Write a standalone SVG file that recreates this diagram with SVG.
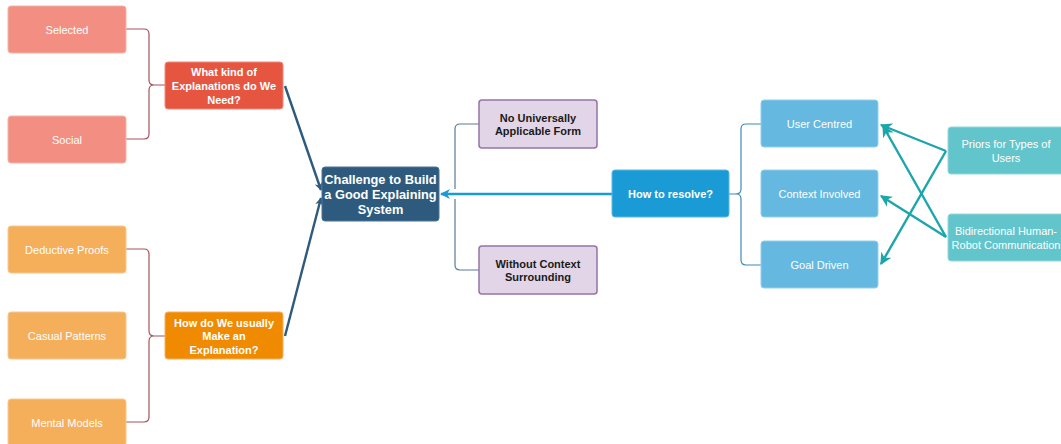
<svg xmlns="http://www.w3.org/2000/svg" width="1061" height="444" viewBox="0 0 1061 444">
<defs>
<style>
text{font-family:"Liberation Sans",Arial,sans-serif;font-size:11px;text-anchor:middle;dominant-baseline:central}
.w{fill:#fff}
.b{font-weight:bold}
.k{fill:#1a1a1a}
.n{stroke-width:1.5}
.br{fill:none;stroke-width:1.2}
</style>
<marker id="aD" viewBox="0 0 10 10" refX="9" refY="5" markerWidth="8" markerHeight="8" orient="auto" markerUnits="userSpaceOnUse"><path d="M0,0 L10,5 L0,10 L3,5 Z" fill="#2e5b7d"/></marker>
<marker id="aB" viewBox="0 0 10 10" refX="9" refY="5" markerWidth="10" markerHeight="10" orient="auto" markerUnits="userSpaceOnUse"><path d="M0,0 L10,5 L0,10 L3,5 Z" fill="#1a9bd6"/></marker>
<marker id="aT" viewBox="0 0 10 10" refX="9" refY="5" markerWidth="12" markerHeight="12" orient="auto" markerUnits="userSpaceOnUse"><path d="M0,0 L10,5 L0,10 L3,5 Z" fill="#1ba6ab"/></marker>
</defs>
<rect width="1061" height="444" fill="#fff"/>
<g id="connectors">
<path class="br" stroke="#a8505a" d="M126,29 H144 Q149,29 149,34 V80 Q149,85 154,85 H165 M154,85 Q149,85 149,90 V134 Q149,139 144,139 H126"/>
<path class="br" stroke="#a8505a" d="M126,249 H144 Q149,249 149,254 V331 Q149,336 154,336 H169 M154,336 Q149,336 149,341 V417 Q149,422 144,422 H126"/>
<line x1="285" y1="86" x2="321" y2="190" stroke="#2e5b7d" stroke-width="2.4" marker-end="url(#aD)"/>
<line x1="285" y1="336" x2="321" y2="198" stroke="#2e5b7d" stroke-width="2.4" marker-end="url(#aD)"/>
<path class="br" stroke="#5a7a95" d="M455,189 V129 Q455,124 460,124 H479 M455,199 V265 Q455,270 460,270 H479"/>
<line x1="612" y1="194" x2="441" y2="194" stroke="#1a9bd6" stroke-width="2.4" marker-end="url(#aB)"/>
<path class="br" stroke="#3d8ab5" d="M729,194 H736 Q741,194 741,189 V129 Q741,124 746,124 H761 M736,194 Q741,194 741,199 V260 Q741,265 746,265 H761"/>
<g stroke="#1ba6ab" stroke-width="2.4" fill="none">
<line x1="946" y1="151" x2="881" y2="125" marker-end="url(#aT)"/>
<line x1="946" y1="151" x2="881" y2="264" marker-end="url(#aT)"/>
<line x1="946" y1="237" x2="883" y2="126" marker-end="url(#aT)"/>
<line x1="946" y1="237" x2="881" y2="196" marker-end="url(#aT)"/>
</g>
</g>
<g id="selected"><rect x="8" y="6" width="118" height="47" rx="3" fill="#f28f82" stroke="#f5b3a8"/><text class="w" x="67" y="29.5">Selected</text></g>
<g id="social"><rect x="8" y="116" width="118" height="47" rx="3" fill="#f28f82" stroke="#f5b3a8"/><text class="w" x="67" y="139.5">Social</text></g>
<g id="what-kind"><rect x="165" y="62" width="118" height="47" rx="3" fill="#e65540" stroke="#f08a78"/><text class="w b" x="224" y="71.5">What kind of</text><text class="w b" x="224" y="85.5">Explanations do We</text><text class="w b" x="224" y="99.5">Need?</text></g>
<g id="deductive"><rect x="8" y="226" width="118" height="47" rx="3" fill="#f5ae5a" stroke="#f8c890"/><text class="w" x="67" y="249.5">Deductive Proofs</text></g>
<g id="casual"><rect x="8" y="312" width="118" height="47" rx="3" fill="#f5ae5a" stroke="#f8c890"/><text class="w" x="67" y="335.5">Casual Patterns</text></g>
<g id="mental"><rect x="8" y="399" width="118" height="47" rx="3" fill="#f5ae5a" stroke="#f8c890"/><text class="w" x="67" y="422.5">Mental Models</text></g>
<g id="how-do"><rect x="165" y="312" width="118" height="47" rx="3" fill="#f08a00" stroke="#f5b060"/><text class="w b" x="224" y="322.5">How do We usually</text><text class="w b" x="224" y="336">Make an</text><text class="w b" x="224" y="349.5">Explanation?</text></g>
<g id="challenge"><rect x="322" y="167" width="117" height="54" rx="3" fill="#2e5b7d" stroke="#4a7598"/><text class="w b" x="380.5" y="179" style="font-size:12.8px">Challenge to Build</text><text class="w b" x="380.5" y="194" style="font-size:12.8px">a Good Explaining</text><text class="w b" x="380.5" y="209" style="font-size:12.8px">System</text></g>
<g id="no-universal"><rect x="479" y="100" width="118" height="48" rx="3" fill="#e1d5e7" stroke="#9673a6" class="n"/><text class="k b" x="538" y="117.5">No Universally</text><text class="k b" x="538" y="131">Applicable Form</text></g>
<g id="without-context"><rect x="479" y="246" width="118" height="48" rx="3" fill="#e1d5e7" stroke="#9673a6" class="n"/><text class="k b" x="538" y="263.5">Without Context</text><text class="k b" x="538" y="277">Surrounding</text></g>
<g id="how-resolve"><rect x="612" y="170" width="117" height="47" rx="3" fill="#1a9bd6" stroke="#5ab8e2"/><text class="w b" x="670.5" y="193.5">How to resolve?</text></g>
<g id="user-centred"><rect x="761" y="100" width="117" height="47" rx="3" fill="#65b9e0" stroke="#94cfea"/><text class="w" x="819.5" y="123.5">User Centred</text></g>
<g id="context-involved"><rect x="761" y="170" width="117" height="47" rx="3" fill="#65b9e0" stroke="#94cfea"/><text class="w" x="819.5" y="193.5">Context Involved</text></g>
<g id="goal-driven"><rect x="761" y="241" width="117" height="47" rx="3" fill="#65b9e0" stroke="#94cfea"/><text class="w" x="819.5" y="265">Goal Driven</text></g>
<g id="priors"><rect x="948" y="127" width="118" height="47" rx="3" fill="#62c5cc" stroke="#92d8dc"/><text class="w" x="1006" y="144">Priors for Types of</text><text class="w" x="1006" y="158">Users</text></g>
<g id="bidirectional"><rect x="948" y="214" width="118" height="47" rx="3" fill="#62c5cc" stroke="#92d8dc"/><text class="w" x="1006" y="231">Bidirectional Human-</text><text class="w" x="1006" y="245">Robot Communication</text></g>
</svg>
